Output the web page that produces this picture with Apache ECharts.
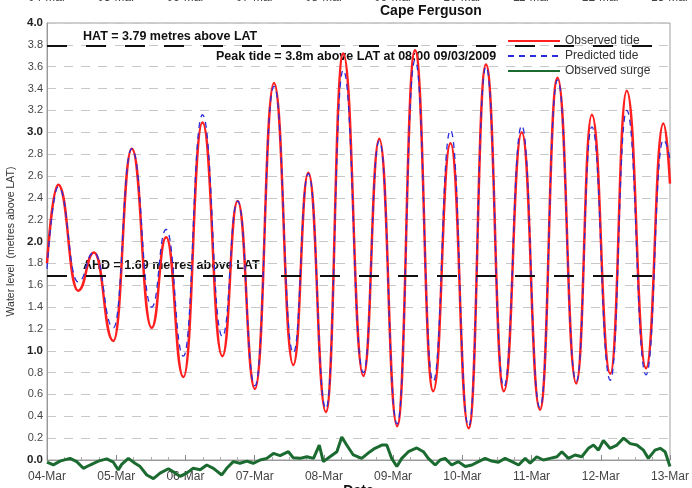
<!DOCTYPE html>
<html>
<head>
<meta charset="utf-8">
<script src="https://cdn.jsdelivr.net/npm/echarts@6/dist/echarts.min.js"></script>
<style>
  html, body { margin: 0; padding: 0; background: #fff; }
  #chart { width: 692px; height: 488px; }
</style>
</head>
<body>
<div id="chart"></div>
<script>
// x values are hours after 04-Mar 00:00
const dayLabels = ['04-Mar', '05-Mar', '06-Mar', '07-Mar', '08-Mar', '09-Mar', '10-Mar', '11-Mar', '12-Mar', '13-Mar'];

// high / low waters
const tideHours = [0, 3.9, 10.8, 16.3, 23.0, 29.4, 36.3, 41.3, 47.3, 53.9,
  60.8, 66.1, 72.1, 78.7, 85.4, 90.6, 96.7, 102.7, 109.7, 115.2,
  121.4, 127.6, 133.9, 139.9, 146.2, 152.2, 158.4, 164.6, 170.9, 177.0,
  183.5, 188.9, 195.3, 201.0, 207.7, 213.7, 216];
const observedTide = [1.80, 2.52, 1.55, 1.90, 1.09, 2.85, 1.21, 2.04, 0.76, 3.09,
  0.95, 2.37, 0.65, 3.45, 0.87, 2.63, 0.44, 3.72, 0.77, 2.94,
  0.31, 3.75, 0.63, 2.90, 0.29, 3.62, 0.63, 3.00, 0.46, 3.50,
  0.70, 3.16, 0.79, 3.38, 0.84, 3.08, 2.53];
const predictedTide = [1.75, 2.50, 1.63, 1.90, 1.21, 2.85, 1.40, 2.11, 0.95, 3.16,
  1.13, 2.37, 0.68, 3.42, 0.98, 2.62, 0.47, 3.57, 0.80, 2.92,
  0.33, 3.66, 0.72, 3.02, 0.31, 3.60, 0.67, 3.06, 0.48, 3.48,
  0.72, 3.05, 0.73, 3.20, 0.78, 2.93, 2.75];

// surge (observed - predicted)
const surgeHours = [0, 2.2, 4.5, 8.0, 10.3, 12.6, 14.9, 17.8, 20.7, 23.0,
  24.7, 25.9, 28.2, 30.5, 32.3, 34.6, 36.9, 39.2, 42.1, 43.8,
  46.1, 48.4, 50.7, 53.1, 55.4, 57.7, 60.6, 62.3, 64.6, 66.9,
  69.3, 71.5, 73.9, 76.2, 78.5, 80.8, 83.7, 85.4, 87.7, 90.1,
  92.4, 94.4, 95.8, 98.1, 100.5, 102.2, 103.9, 106.2,
  109.1, 112.0, 113.7, 116.1, 117.8, 119.5, 121.3, 123.0, 125.3, 128.2,
  130.5, 132.2, 134.6, 136.3, 138.0, 140.3, 142.6, 145.0, 147.3, 149.6,
  151.9, 154.2, 156.5, 158.8, 161.2, 163.5, 165.8, 167.5, 169.8, 172.1,
  174.4, 176.8, 178.5, 180.8, 183.1, 185.4, 187.7, 189.5, 191.2, 192.9,
  195.2, 197.6, 199.9, 202.2, 204.5, 206.8, 208.5, 210.8, 212.6, 214.3, 216];
const surgeValues = [-0.02, -0.045, -0.01, 0.015, -0.015, -0.076, -0.046, -0.01, 0.01, -0.02,
  -0.09, -0.04, 0.015, -0.03, -0.06, -0.137, -0.17, -0.12, -0.08, -0.107,
  -0.15, -0.12, -0.076, -0.09, -0.046, -0.076, -0.137, -0.076, -0.015, -0.03,
  -0.01, -0.03, 0.0, 0.015, 0.06, 0.04, 0.076, 0.02, 0.015, 0.03,
  0.015, 0.137, -0.015, 0.03, 0.076, 0.21, 0.137, 0.046,
  0.015, 0.076, 0.107, 0.137, 0.137, 0.015, -0.06, 0.015, 0.076, 0.11,
  0.076, 0.015, -0.046, 0.0, 0.015, -0.046, -0.015, -0.06, -0.046, -0.015,
  0.015, -0.01, -0.02, 0.015, -0.015, -0.046, 0.015, -0.03, 0.03, 0.0,
  0.015, 0.03, 0.076, 0.015, 0.046, 0.03, 0.107, 0.137, 0.09, 0.18,
  0.107, 0.137, 0.2, 0.15, 0.137, 0.09, 0.015, 0.09, 0.107, 0.076, -0.06];

const hatLevel = 3.79;
const ahdLevel = 1.69;

const FONT = 'Liberation Sans, Arial, sans-serif';
const chart = echarts.init(document.getElementById('chart'));

const dayFormatter = v => dayLabels[Math.round(v / 24)] || '';

const option = {
  backgroundColor: '#fff',
  animation: false,
  textStyle: { fontFamily: FONT },
  grid: {
    left: 47, right: 22, top: 23, bottom: 28,
    containLabel: false, outerBoundsMode: 'none',
    show: true, borderColor: '#a0a0a0', borderWidth: 1
  },
  legend: {
    data: ['Observed tide', 'Predicted tide', 'Observed surge'],
    orient: 'vertical',
    left: 507, top: 35, padding: 0,
    itemWidth: 52, itemHeight: 14, itemGap: 3,
    itemStyle: { opacity: 0 },
    textStyle: { fontSize: 12, color: '#333', fontFamily: FONT }
  },
  xAxis: [{
    type: 'value', min: 0, max: 216, interval: 24,
    name: 'Date', nameLocation: 'middle', nameGap: 24, nameMoveOverlap: false,
    nameTextStyle: { fontSize: 14, fontWeight: 'bold', color: '#111', verticalAlign: 'top' },
    axisLine: { lineStyle: { color: '#999' } },
    axisTick: { inside: true, length: 5, lineStyle: { color: '#888' } },
    minorTick: { show: true, splitNumber: 4, length: 3, lineStyle: { color: '#aaa' } },
    axisLabel: { formatter: dayFormatter, fontSize: 12, color: '#444', margin: 11 },
    splitLine: { show: false }
  }, {
    type: 'value', position: 'top', min: 0, max: 216, interval: 24,
    axisLine: { show: false }, axisTick: { show: false },
    axisLabel: { formatter: dayFormatter, fontSize: 12, color: '#444', margin: 19 },
    splitLine: { show: false }
  }],
  yAxis: {
    type: 'value', min: 0, max: 4, interval: 0.2,
    name: 'Water level  (metres above LAT)', nameLocation: 'middle', nameGap: 27,
    nameTextStyle: { fontSize: 10.5, color: '#333' },
    axisLine: { show: true, lineStyle: { color: '#999' } },
    axisTick: { show: false },
    axisLabel: {
      fontSize: 11, color: '#444', margin: 4,
      formatter: v => Math.abs(v - Math.round(v)) < 1e-6 ? '{b|' + v.toFixed(1) + '}' : v.toFixed(1),
      rich: { b: { fontWeight: 'bold', fontSize: 11.5, color: '#222' } }
    },
    splitLine: { lineStyle: { color: '#c8c8c8', type: [9, 8] } }
  },
  graphic: [
    { type: 'text', left: 380, top: 4, style: { text: 'Cape Ferguson', font: 'bold 14px ' + FONT, fill: '#111', textAlign: 'center' } },
    { type: 'text', left: 83, top: 30, style: { text: 'HAT = 3.79 metres above LAT', font: 'bold 12.5px ' + FONT, fill: '#111' } },
    { type: 'text', left: 216, top: 50, style: { text: 'Peak tide = 3.8m above LAT at 08:00 09/03/2009', font: 'bold 12.5px ' + FONT, fill: '#111' } },
    { type: 'text', left: 83, top: 259, style: { text: 'AHD = 1.69 metres above LAT', font: 'bold 12.5px ' + FONT, fill: '#111' } }
  ],
  series: [{
    name: 'Observed tide', type: 'line',
    data: tideHours.map((h, i) => [h, observedTide[i]]),
    smooth: 0.5, smoothMonotone: 'x', symbol: 'none',
    lineStyle: { color: '#ff1f1f', width: 2.5 }, itemStyle: { color: '#ff1f1f' },
    markLine: {
      silent: true, symbol: 'none', label: { show: false },
      lineStyle: { color: '#111', width: 2, type: [20, 19] },
      data: [{ yAxis: hatLevel }, { yAxis: ahdLevel }]
    }
  }, {
    name: 'Predicted tide', type: 'line',
    data: tideHours.map((h, i) => [h, predictedTide[i]]),
    smooth: 0.5, smoothMonotone: 'x', symbol: 'none',
    lineStyle: { color: '#2b2bdc', width: 1.3, type: [6, 5] }, itemStyle: { color: '#2b2bdc' }
  }, {
    name: 'Observed surge', type: 'line',
    data: surgeHours.map((h, i) => [h, surgeValues[i]]),
    symbol: 'none', clip: false,
    lineStyle: { color: '#1b6b31', width: 3 }, itemStyle: { color: '#1b6b31' }
  }]
};

chart.setOption(option);
</script>
</body>
</html>
